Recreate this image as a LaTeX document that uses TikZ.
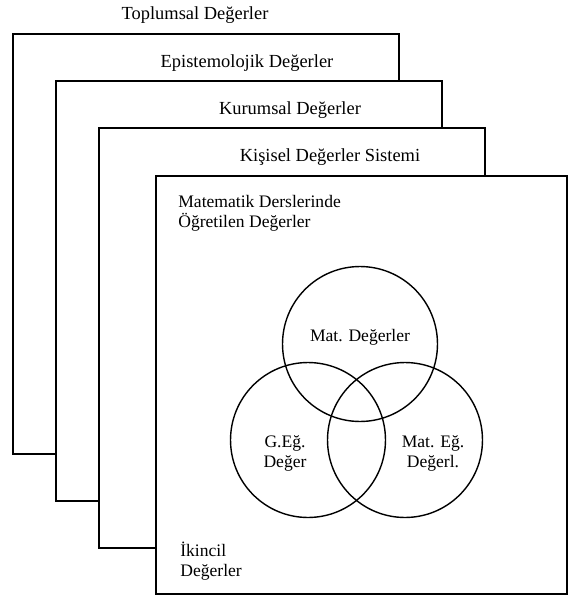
\documentclass[tikz,border=0pt]{standalone}
\usepackage{fontspec}
\setmainfont{Liberation Serif}
\usetikzlibrary{positioning}
\tikzset{
    layer/.style = {rectangle, draw=black, line width=1pt, fill=white, anchor=north west, inner sep=0pt, minimum width=7.72cm, minimum height=8.4cm},
    inner/.style = {layer, minimum width=8.22cm, minimum height=8.36cm},
    venn/.style = {circle, draw=black, line width=0.8pt, minimum size=3.1cm, inner sep=0pt},
    title/.style = {font=\fontsize{10.5}{12}\selectfont},
    note/.style = {align=left, anchor=west, inner sep=0pt, font=\fontsize{10}{11.5}\selectfont},
    vtext/.style = {align=center, inner sep=0pt, font=\fontsize{10}{11.5}\selectfont}
}
\begin{document}
\begin{tikzpicture}[x=0.02cm, y=-0.02cm]
\useasboundingbox (0,0) rectangle (568,595);
%
\node[layer] at (12,33) (toplumsal) {};
\node[layer] at (55,80) (epistemo) {};
\node[layer] at (98,127) (kurumsal) {};
\node[inner] at (155,175) (kisisel) {};
%
\node[title] at (195,15) (ttop) {Toplumsal Değerler};
\node[title] at (247,63) (tepi) {Epistemolojik Değerler};
\node[title] at (290,110) (tkur) {Kurumsal Değerler};
\node[title] at (330,157) (tkis) {Kişisel Değerler Sistemi};
\node[note] at (178,213) (tmat) {Matematik Derslerinde\\Öğretilen Değerler};
\node[note] at (180,561) (tikincil) {İkincil\\Değerler};
%
\node[venn] at (360,344) (mat) {};
\node[venn] at (308,440) (geg) {};
\node[venn] at (405,440) (mateg) {};
%
\node[vtext] at (360,337) (lmat) {Mat. Değerler};
\node[vtext] at (285,453) (lgeg) {G.Eğ.\\Değer};
\node[vtext] at (433,453) (lmateg) {Mat. Eğ.\\Değerl.};

\end{tikzpicture}
\end{document}
